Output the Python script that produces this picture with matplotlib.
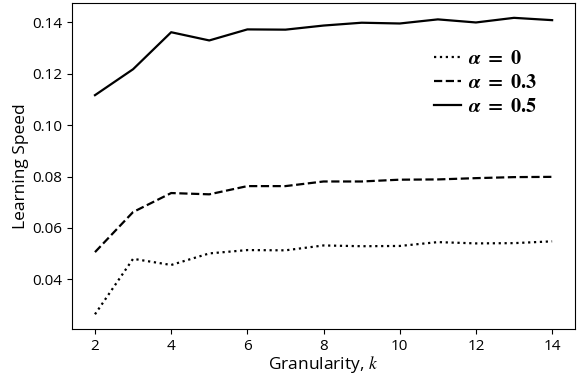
import matplotlib
matplotlib.use("Agg")
import matplotlib.pyplot as plt

k = [2, 3, 4, 5, 6, 7, 8, 9, 10, 11, 12, 13, 14]
speed_a0 = [0.0264, 0.0480, 0.0456, 0.0501, 0.0514, 0.0513, 0.0532, 0.0529, 0.0530, 0.0545, 0.0540, 0.0541, 0.0548]
speed_a03 = [0.0506, 0.0662, 0.0736, 0.0731, 0.0763, 0.0763, 0.0781, 0.0781, 0.0788, 0.0789, 0.0794, 0.0798, 0.0799]
speed_a05 = [0.1117, 0.1218, 0.1362, 0.1330, 0.1373, 0.1372, 0.1388, 0.1399, 0.1396, 0.1412, 0.1400, 0.1418, 0.1409]
labels = [r'$\boldsymbol{\alpha}\ \mathbf{=}\ \mathbf{0}$',
          r'$\boldsymbol{\alpha}\ \mathbf{=}\ \mathbf{0.3}$',
          r'$\boldsymbol{\alpha}\ \mathbf{=}\ \mathbf{0.5}$']
yticks = [0.04, 0.06, 0.08, 0.10, 0.12, 0.14]
xticks = [2, 4, 6, 8, 10, 12, 14]

plt.rcParams['font.family'] = ['Open Sans', 'DejaVu Sans']
plt.rcParams['mathtext.fontset'] = 'stix'

fig, ax = plt.subplots(figsize=(5.77, 3.77), dpi=100)
ax.plot(k, speed_a0, color='black', linestyle=':', linewidth=1.6, label=labels[0])
ax.plot(k, speed_a03, color='black', linestyle='--', linewidth=1.6, label=labels[1])
ax.plot(k, speed_a05, color='black', linestyle='-', linewidth=1.6, label=labels[2])

ax.set_xticks(xticks)
ax.set_yticks(yticks)
ax.set_yticklabels([f'{v:.2f}' for v in yticks])
ax.tick_params(labelsize=11)
ax.set_xlabel(r'Granularity, $k$', fontsize=12.5, labelpad=0)
ax.set_ylabel('Learning Speed', fontsize=12.5, labelpad=2)
leg = ax.legend(loc='upper right', frameon=False, fontsize=14.5, handlelength=1.35,
                handletextpad=0.35, labelspacing=0.22, borderaxespad=0,
                bbox_to_anchor=(0.94, 0.885))

fig.subplots_adjust(left=0.125, right=0.9965, top=0.992, bottom=0.127)
fig.savefig('out.png', dpi=100)
